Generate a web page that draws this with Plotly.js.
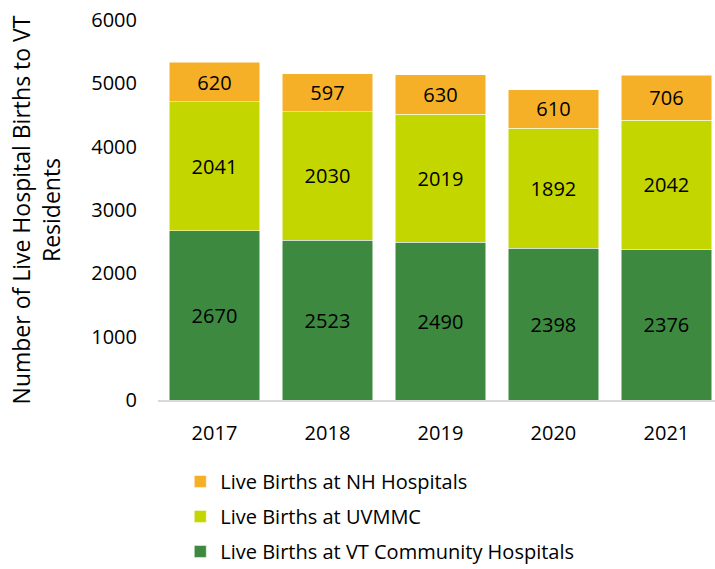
<!DOCTYPE html>
<html>
<head>
<meta charset="utf-8">
<script src="https://cdn.plot.ly/plotly-3.0.1.min.js"></script>
<style>html,body{margin:0;padding:0;background:#fff;}#chart{width:715px;height:569px;}</style>
</head>
<body>
<div id="chart"></div>
<script>
const years = ["2017", "2018", "2019", "2020", "2021"];
const vtCommunity = [2670, 2523, 2490, 2398, 2376];
const uvmmc = [2041, 2030, 2019, 1892, 2042];
const nhHospitals = [620, 597, 630, 610, 706];

const seriesNames = ["Live Births at VT Community Hospitals", "Live Births at UVMMC", "Live Births at NH Hospitals"];
const seriesColors = ["#3E8940", "#C4D600", "#F5B027"];
const seriesValues = [vtCommunity, uvmmc, nhHospitals];

const font = "Open Sans, Noto Sans, sans-serif";

const traces = seriesValues.map((vals, i) => ({
  type: "bar",
  x: years,
  y: vals,
  name: seriesNames[i],
  legendgroup: "g" + i,
  legendrank: 3 - i,
  marker: {color: seriesColors[i], line: {color: "#ffffff", width: 0.5}},
  text: vals.map(String),
  textposition: "inside",
  insidetextanchor: "middle",
  constraintext: "none",
  textfont: {family: font, size: 20, color: "#000000"},
  hoverinfo: "x+y+name"
}));

const layout = {
  width: 715,
  height: 569,
  margin: {l: 158, r: 0, t: 20, b: 169, autoexpand: false},
  paper_bgcolor: "#ffffff",
  plot_bgcolor: "#ffffff",
  barmode: "stack",
  bargap: 0.2,
  font: {family: font, size: 20, color: "#000000"},
  xaxis: {
    type: "category",
    range: [-0.5, 4.43],
    showgrid: false,
    showline: true,
    linecolor: "#D9D9D9",
    linewidth: 1.5,
    ticks: "",
    tickfont: {family: font, size: 20, color: "#000000"},
    ticklabelstandoff: 14
  },
  yaxis: {
    range: [0, 6000],
    dtick: 1000,
    showgrid: false,
    zeroline: false,
    showline: false,
    ticks: "",
    tickfont: {family: font, size: 20, color: "#000000"},
    ticklabelstandoff: 20,
    title: {
      text: "Number of Live Hospital Births to VT<br>Residents",
      font: {family: font, size: 23, color: "#000000"},
      standoff: 24
    }
  },
  showlegend: true,
  legend: {
    orientation: "v",
    traceorder: "grouped",
    x: 0.04,
    xanchor: "left",
    y: -0.163,
    yanchor: "top",
    font: {family: font, size: 20, color: "#000000"},
    itemwidth: 30,
    tracegroupgap: 6
  }
};

Plotly.newPlot("chart", traces, layout, {displayModeBar: false, staticPlot: true});
</script>
</body>
</html>
